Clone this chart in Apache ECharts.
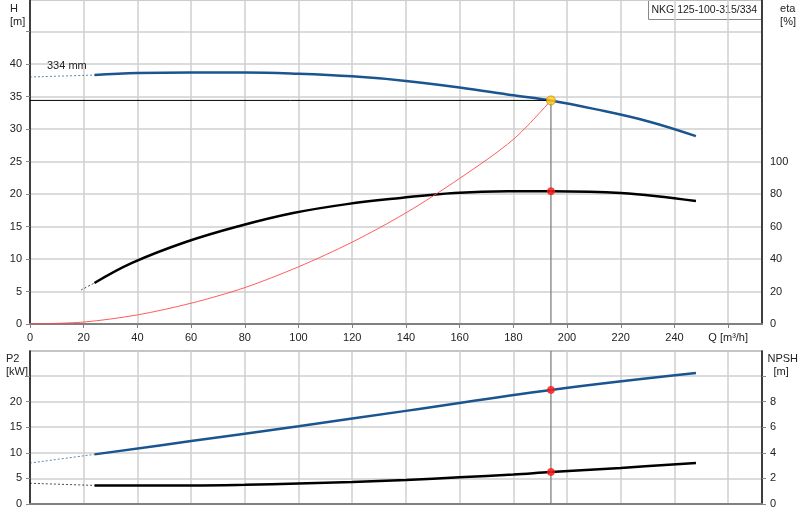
<!DOCTYPE html>
<html><head><meta charset="utf-8">
<script src="https://cdn.jsdelivr.net/npm/echarts@6/dist/echarts.min.js"></script>
<style>html,body{margin:0;padding:0;background:#fff}#c{width:800px;height:520px}</style>
</head><body><div id="c"></div>
<script>
const headDash = [[0,38.0],[24,38.3]];
const head = [[24,38.3],[40,38.6],[60,38.7],[80,38.7],[100,38.5],[120,38.1],[140,37.4],[160,36.4],[180,35.2],[194,34.4],[210,33.1],[230,31.2],[248,28.9]];
const etaDash = [[19,21],[24,25.3]];
const eta = [[24,25.3],[38,37.7],[58,50.6],[78,60.5],[98,68.5],[118,74],[138,77.8],[158,80.9],[178,82],[194,82],[220,80.9],[248,75.9]];
const system = [[0,0],[20,0.3],[40,1.4],[60,3.2],[80,5.6],[100,8.8],[120,12.6],[140,17.1],[160,22.4],[180,28.4],[194,34.4]];
const p2Dash = [[0,8.0],[24,9.7]];
const p2 = [[24,9.7],[60,12.3],[100,15.2],[140,18.2],[194,22.3],[248,25.6]];
const npshDash = [[0,1.62],[24,1.45]];
const npsh = [[24,1.45],[60,1.45],[80,1.5],[100,1.6],[120,1.72],[140,1.88],[160,2.08],[180,2.3],[194,2.5],[220,2.82],[248,3.2]];
const dutyQ = 194, dutyH = 34.4, dutyEta = 82, dutyP2 = 22.3, dutyNpsh = 2.5;
const title = 'NKG 125-100-315/334';

const F = 'Liberation Sans, Arial, sans-serif';
const grid = '#cfcfcf';
const blue = '#1b5590';
const ch = echarts.init(document.getElementById('c'), null, {renderer:'canvas'});
const xBase = (gi, labels) => ({
  type:'value', gridIndex:gi, min:0, max:272.6, interval:20,
  axisLine:{show:true, onZero:false, lineStyle:{color:'#808080', width:2}},
  axisTick:{show:labels, length:4, lineStyle:{color:'#808080'}},
  axisLabel:{show:labels, showMaxLabel:false, color:'#222', fontFamily:F, fontSize:11,
    formatter:v=> v===260 ? 'Q [m³/h]' : String(v)},
  splitLine:{show:true, lineStyle:{color:grid, width:1.5}}
});
const yAx = (gi, max, interval, lastLabel, pos, split, ticks) => ({
  type:'value', gridIndex:gi, min:0, max:max, interval:interval, position:pos,
  axisLine:{show:true, lineStyle:{color:'#111', width:1.5}},
  axisTick:{show:ticks, length:4, inside:false, lineStyle:{color:'#888'}},
  axisLabel:{color:'#222', fontFamily:F, fontSize:11, showMaxLabel:false,
    formatter:v=> v<=lastLabel ? String(v) : ''},
  splitLine:{show:split, lineStyle:{color:grid, width:1.5}}
});
const line = (data, x, y, color, w, dashed) => ({
  type:'line', data:data, xAxisIndex:x, yAxisIndex:y, symbol:'none', smooth:0.4,
  lineStyle:{color:color, width:w, type: dashed ? [2,2] : 'solid', opacity: dashed?0.7:1},
  z: dashed?2:3, silent:true, animation:false
});
const dot = (q, v, x, y, color, border, size) => ({
  type:'scatter', data:[[q,v]], xAxisIndex:x, yAxisIndex:y, symbolSize:size||7,
  itemStyle:{color:color, borderColor:border||color, borderWidth:1}, z:10, animation:false
});
ch.setOption({
  animation:false,
  grid:[
    {left:30, right:38, top:0, height:324, show:true, borderColor:'#888', borderWidth:1},
    {left:30, right:38, top:351, height:153, show:true, borderColor:'#888', borderWidth:1.5}
  ],
  xAxis:[xBase(0,true), xBase(1,false)],
  yAxis:[
    yAx(0, 49.85, 5, 40, 'left', true, true),
    yAx(0, 200, 20, 100, 'right', false, false),
    yAx(1, 29.9, 5, 20, 'left', true, true),
    yAx(1, 11.95, 2, 8, 'right', false, true)
  ],
  series:[
    line(headDash,0,0,blue,1,true),
    line(head,0,0,blue,2.5,false),
    line(etaDash,0,1,'#000',1,true),
    line(eta,0,1,'#000',2.5,false),
    Object.assign(line(system,0,0,'#ff4a4a',0.9,false),{smooth:0.3}),
    {type:'line', xAxisIndex:0, yAxisIndex:0, data:[[0,dutyH],[dutyQ,dutyH]], symbol:'none',
      lineStyle:{color:'#000',width:1}, z:4, animation:false},
    {type:'line', xAxisIndex:0, yAxisIndex:0, data:[[dutyQ,0],[dutyQ,dutyH]], symbol:'none',
      lineStyle:{color:'#777',width:1.2}, z:4, animation:false},
    {type:'line', xAxisIndex:1, yAxisIndex:2, data:[[dutyQ,0],[dutyQ,29.9]], symbol:'none',
      lineStyle:{color:'#777',width:1.2}, z:4, animation:false},
    dot(dutyQ,dutyH,0,0,'#ffd21a','#e07a00',9),
    dot(dutyQ,dutyEta,0,1,'#ff1a1a'),
    line(p2Dash,1,2,blue,1,true),
    line(p2,1,2,blue,2.5,false),
    line(npshDash,1,3,'#000',1,true),
    line(npsh,1,3,'#000',2.5,false),
    dot(dutyQ,dutyP2,1,2,'#ff1a1a'),
    dot(dutyQ,dutyNpsh,1,3,'#ff1a1a')
  ],
  graphic:[
    {type:'text', left:10, top:2, style:{text:'H\n[m]', font:'11px '+F, fill:'#222', align:'center', lineHeight:13}},
    {type:'text', right:4, top:2, style:{text:'eta\n[%]', font:'11px '+F, fill:'#222', lineHeight:13}},
    {type:'text', left:6, top:352, style:{text:'P2\n[kW]', font:'11px '+F, fill:'#222', lineHeight:13}},
    {type:'text', right:2, top:352, style:{text:'NPSH\n  [m]', font:'11px '+F, fill:'#222', lineHeight:13}},
    {type:'text', left:47, top:60, z:20, style:{text:'334 mm', font:'11px '+F, fill:'#222', backgroundColor:'transparent'}},
    {type:'group', left:648, top:0, z:20, children:[
      {type:'rect', shape:{x:0,y:0,width:113,height:19}, style:{fill:'#fff', stroke:'#888', lineWidth:1}},
      {type:'text', x:3, y:4, style:{text:title, font:'10.5px '+F, fill:'#222'}}
    ]}
  ]
});
</script></body></html>
